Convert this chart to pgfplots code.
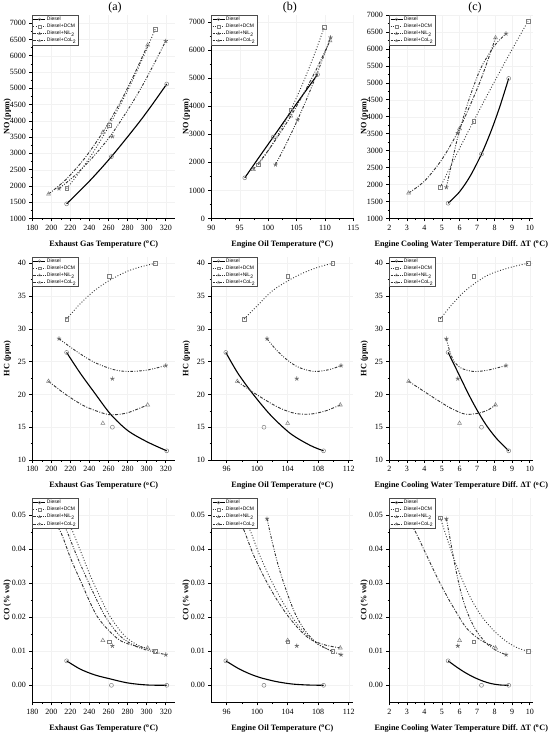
\documentclass[border=0pt]{standalone}
\usepackage{fontspec}
\setmainfont{Liberation Serif}
\setsansfont{Liberation Sans}
\usepackage{pgfplots}
\pgfplotsset{compat=1.18}
\usetikzlibrary{plotmarks}

\pgfplotsset{
  base/.style={
    scale only axis,
    axis x line*=bottom, axis y line*=left,
    axis line style={black, line width=0.7pt},
    tick align=outside, minor tick num=1,
    major tick length=3pt, minor tick length=1.7pt,
    every tick/.style={black, line width=0.6pt},
    tick label style={font=\fontsize{8}{9}\selectfont},
    /pgf/number format/assume math mode=true,
    /pgf/number format/1000 sep={},
    every axis x label/.style={at={(axis description cs:0.5,0)}, anchor=center, yshift=-26pt, font=\bfseries\fontsize{8.2}{10}\selectfont},
    every axis y label/.style={at={([xshift=-25pt]axis description cs:0,0.5)}, anchor=center, rotate=90, font=\bfseries\fontsize{8.2}{10}\selectfont},
    grid=major, major grid style={black!5, line width=0.3pt},
    legend cell align=left,
    legend style={at={(0,1)}, anchor=north west, draw=black!70, line width=0.3pt, fill=white,
      font=\sffamily\fontsize{5}{5.5}\selectfont, inner sep=0.6pt, nodes={inner sep=1pt}},
    legend image code/.code={\draw[mark repeat=2,mark phase=2,##1] plot coordinates {(0pt,0pt)(6pt,0pt)(12pt,0pt)};},
  },
  coaxis/.style={ymin=-0.005, ymax=0.055, ytick={0,0.01,0.02,0.03,0.04,0.05}, scaled y ticks=false,
    yticklabel style={/pgf/number format/fixed, /pgf/number format/fixed zerofill, /pgf/number format/precision=2}},
  ttl/.style={title={#1}, title style={anchor=center, yshift=1pt, font=\fontsize{12}{14}\selectfont}},
  lD/.style={black, line width=0.9pt, solid, mark=o, mark size=1.4pt, mark options={solid, draw=black!50, line width=0.4pt, fill=white}},
  lM/.style={black!80, line width=0.8pt, dash pattern=on 0.8pt off 1.6pt, mark=square, mark size=1.3pt, mark options={solid, draw=black!50, line width=0.4pt, fill=white}},
  lN/.style={black!80, line width=0.8pt, dash pattern=on 2.5pt off 1.2pt on 0.8pt off 1.2pt, mark=triangle, mark size=1.5pt, mark options={solid, draw=black!50, line width=0.4pt, fill=white}},
  lC/.style={black!80, line width=0.8pt, dash pattern=on 2.2pt off 1.2pt on 0.8pt off 1.2pt on 0.8pt off 1.2pt, mark=star, mark size=1.5pt, mark options={solid, draw=black!55, line width=0.5pt, fill=white}},
  cD/.style={black, line width=1.1pt, solid, smooth, no markers},
  cM/.style={black!80, line width=0.9pt, dash pattern=on 0.9pt off 1.9pt, smooth, no markers},
  cN/.style={black!80, line width=0.9pt, dash pattern=on 3pt off 1.5pt on 0.9pt off 1.5pt, smooth, no markers},
  cC/.style={black!80, line width=0.9pt, dash pattern=on 2.6pt off 1.5pt on 0.9pt off 1.5pt on 0.9pt off 1.5pt, smooth, no markers},
  mD/.style={only marks, mark=o, mark size=2pt, mark options={solid, draw=black!50, line width=0.5pt}},
  mM/.style={only marks, mark=square, mark size=1.8pt, mark options={solid, draw=black!50, line width=0.5pt}},
  mN/.style={only marks, mark=triangle, mark size=2.3pt, mark options={solid, draw=black!50, line width=0.5pt}},
  mC/.style={only marks, mark=star, mark size=2.2pt, mark options={solid, draw=black!60, line width=0.7pt}},
}

\newcommand{\legimgs}{%
  \addlegendimage{lD}\addlegendentry{Diesel}
  \addlegendimage{lM}\addlegendentry{Diesel+DCM}
  \addlegendimage{lN}\addlegendentry{Diesel+NiL\textsubscript{2}}
  \addlegendimage{lC}\addlegendentry{Diesel+CoL\textsubscript{2}}}

\begin{document}
\begin{tikzpicture}[x=1pt,y=1pt]
\useasboundingbox (0,0) rectangle (550,737);

% ================= Row 1: NO =================
\begin{axis}[base, at={(32.3pt,518.5pt)}, anchor=south west, width=143pt, height=203.5pt,
  xmin=180, xmax=330, ymin=1000, ymax=7250,
  xtick={180,200,...,320}, ytick={1000,1500,...,7000},
  xlabel={Exhaust Gas Temperature (\textsuperscript{o}C)}, ylabel={NO (ppm)},
  ttl={(a)}, title style={at={(axis description cs:0.578,1)}}]
\legimgs
\addplot[cD, forget plot] coordinates {(216,1450)(240,2150)(263,2900)(290,3878)(305,4466)(321,5130)};
\addplot[cM, forget plot] coordinates {(216,1920)(230,2442)(245,3086)(261,3870)(280,4930)(295,5866)(309,6820)};
\addplot[cN, forget plot] coordinates {(197,1750)(215,2190)(235,2852)(254,3650)(270,4449)(285,5305)(301,6330)};
\addplot[cC, forget plot] coordinates {(208,1920)(225,2330)(245,2930)(264,3620)(285,4560)(300,5320)(320,6450)};
\addplot[mD, forget plot] coordinates {(216,1450)(263,2900)(321,5130)};
\addplot[mM, forget plot] coordinates {(216,1920)(261,3870)(309,6820)};
\addplot[mN, forget plot] coordinates {(197,1750)(254,3650)(301,6330)};
\addplot[mC, forget plot] coordinates {(208,1920)(264,3520)(320,6450)};
\end{axis}

\begin{axis}[base, at={(211.3pt,518.5pt)}, anchor=south west, width=142pt, height=203.5pt,
  xmin=90, xmax=115, ymin=0, ymax=7250,
  xtick={90,95,...,115}, ytick={0,1000,...,7000},
  xlabel={Engine Oil Temperature (\textsuperscript{o}C)}, ylabel={NO (ppm)},
  ttl={(b)}, title style={at={(axis description cs:0.554,1)}}]
\legimgs
\addplot[cD, forget plot] coordinates {(95.9,1450)(98.5,2210)(100.9,2900)(104.8,4030)(108.7,5130)};
\addplot[cM, forget plot] coordinates {(98.3,1920)(100,2409)(102,3085)(104,3870)(106,4763)(108,5767)(109.9,6820)};
\addplot[cN, forget plot] coordinates {(97.4,1750)(99.5,2284)(101.5,2854)(104,3650)(106.5,4539)(108.7,5398)(110.9,6330)};
\addplot[cC, forget plot] coordinates {(101.3,1920)(103,2581)(105.2,3520)(107,4359)(109,5365)(111,6450)};
\addplot[mD, forget plot] coordinates {(95.9,1450)(100.9,2900)(108.7,5130)};
\addplot[mM, forget plot] coordinates {(98.3,1920)(104.0,3870)(109.9,6820)};
\addplot[mN, forget plot] coordinates {(97.4,1750)(104.0,3650)(110.9,6330)};
\addplot[mC, forget plot] coordinates {(101.3,1920)(105.2,3520)(111.0,6450)};
\end{axis}

\begin{axis}[base, at={(389.3pt,518.5pt)}, anchor=south west, width=144pt, height=203.5pt,
  xmin=2, xmax=10.2, ymin=1000, ymax=7000,
  xtick={2,3,...,10}, ytick={1000,1500,...,7000},
  xlabel={Engine Cooling Water Temperature Diff. ΔT (\textsuperscript{o}C)}, ylabel={NO (ppm)},
  ttl={(c)}, title style={at={(axis description cs:0.595,1)}}]
\legimgs
\addplot[cD, forget plot] coordinates {(5.35,1450)(6.0,1787)(6.6,2245)(7.25,2900)(7.8,3584)(8.3,4308)(8.8,5130)};
\addplot[cM, forget plot] coordinates {(4.9,1920)(5.5,2548)(6.2,3266)(6.8,3870)(7.6,4659)(8.7,5712)(9.9,6820)};
\addplot[cN, forget plot] coordinates {(3.1,1750)(4.0,2103)(5.0,2745)(6.0,3650)(7.0,4819)(7.5,5502)(8.05,6330)};
\addplot[cC, forget plot] coordinates {(5.25,1920)(5.5,2500)(5.9,3400)(6.5,4450)(7.2,5420)(8.0,6100)(8.65,6450)};
\addplot[mD, forget plot] coordinates {(5.35,1450)(7.25,2900)(8.8,5130)};
\addplot[mM, forget plot] coordinates {(4.9,1920)(6.8,3870)(9.9,6820)};
\addplot[mN, forget plot] coordinates {(3.1,1750)(6.0,3650)(8.05,6330)};
\addplot[mC, forget plot] coordinates {(5.25,1920)(5.9,3520)(8.65,6450)};
\end{axis}

% ================= Row 2: HC =================
\begin{axis}[base, at={(32.3pt,277pt)}, anchor=south west, width=143pt, height=203.3pt,
  xmin=180, xmax=330, ymin=10, ymax=41,
  xtick={180,200,...,320}, ytick={10,15,...,40},
  xlabel={Exhaust Gas Temperature (\textsuperscript{o}C)}, ylabel={HC (ppm)}]
\legimgs
\addplot[cD, forget plot] coordinates {(216,26.4)(230,23.3)(245,20.3)(262,17.0)(280,14.5)(300,12.8)(321,11.4)};
\addplot[cM, forget plot] coordinates {(216,31.5)(230,33.8)(245,35.8)(261,37.4)(280,38.8)(295,39.5)(309,40.0)};
\addplot[cN, forget plot] coordinates {(197,22.0)(215,20.0)(235,18.2)(255,17.1)(265,16.9)(280,17.2)(301,18.4)};
\addplot[cC, forget plot] coordinates {(208,28.5)(225,26.7)(245,24.9)(265,23.8)(280,23.5)(300,23.7)(320,24.4)};
\addplot[mD, forget plot] coordinates {(216,26.4)(264,15.0)(321,11.4)};
\addplot[mM, forget plot] coordinates {(216,31.5)(261,38.0)(309,40.0)};
\addplot[mN, forget plot] coordinates {(197,22.0)(254,15.6)(301,18.4)};
\addplot[mC, forget plot] coordinates {(208,28.5)(264,22.4)(320,24.4)};
\end{axis}

\begin{axis}[base, at={(211.3pt,277pt)}, anchor=south west, width=142pt, height=203.3pt,
  xmin=94, xmax=112.6, ymin=10, ymax=41,
  xtick={96,100,...,112}, ytick={10,15,...,40},
  xlabel={Engine Oil Temperature (\textsuperscript{o}C)}, ylabel={HC (ppm)}]
\legimgs
\addplot[cD, forget plot] coordinates {(95.9,26.4)(97.5,23.2)(99.5,20.0)(101.8,16.8)(104.4,14.0)(107,12.2)(108.7,11.4)};
\addplot[cM, forget plot] coordinates {(98.3,31.5)(100,33.5)(102,35.8)(104,37.3)(106,38.5)(108,39.4)(109.9,40.0)};
\addplot[cN, forget plot] coordinates {(97.4,22.0)(99,20.7)(101,19.2)(103,17.9)(105,17.1)(107,17.0)(109,17.5)(110.9,18.4)};
\addplot[cC, forget plot] coordinates {(101.3,28.5)(102.5,26.8)(104,25.2)(105.5,24.1)(107.5,23.5)(109.5,23.8)(111,24.4)};
\addplot[mD, forget plot] coordinates {(95.9,26.4)(100.9,15.0)(108.7,11.4)};
\addplot[mM, forget plot] coordinates {(98.3,31.5)(104.0,38.0)(109.9,40.0)};
\addplot[mN, forget plot] coordinates {(97.4,22.0)(104.0,15.6)(110.9,18.4)};
\addplot[mC, forget plot] coordinates {(101.3,28.5)(105.2,22.4)(111.0,24.4)};
\end{axis}

\begin{axis}[base, at={(389.3pt,277pt)}, anchor=south west, width=144pt, height=203.3pt,
  xmin=2, xmax=10.2, ymin=10, ymax=41,
  xtick={2,3,...,10}, ytick={10,15,...,40},
  xlabel={Engine Cooling Water Temperature Diff. ΔT (\textsuperscript{o}C)}, ylabel={HC (ppm)}]
\legimgs
\addplot[cD, forget plot] coordinates {(5.35,26.4)(5.9,23.4)(6.5,20.1)(7.0,17.6)(7.5,15.4)(8.1,13.3)(8.8,11.4)};
\addplot[cM, forget plot] coordinates {(4.9,31.5)(5.5,33.5)(6.2,35.5)(6.9,37.0)(7.7,38.3)(8.8,39.3)(9.9,40.0)};
\addplot[cN, forget plot] coordinates {(3.1,22.0)(3.9,20.6)(4.7,19.2)(5.5,17.9)(6.3,17.0)(7.0,17.1)(7.6,17.6)(8.05,18.4)};
\addplot[cC, forget plot] coordinates {(5.25,28.5)(5.45,26.5)(5.7,25.0)(6.1,24.0)(6.8,23.5)(7.6,23.7)(8.65,24.4)};
\addplot[mD, forget plot] coordinates {(5.35,26.4)(7.25,15.0)(8.8,11.4)};
\addplot[mM, forget plot] coordinates {(4.9,31.5)(6.8,38.0)(9.9,40.0)};
\addplot[mN, forget plot] coordinates {(3.1,22.0)(6.0,15.6)(8.05,18.4)};
\addplot[mC, forget plot] coordinates {(5.25,28.5)(5.9,22.4)(8.65,24.4)};
\end{axis}

% ================= Row 3: CO =================
\begin{axis}[base, coaxis, at={(32.3pt,34.7pt)}, anchor=south west, width=143pt, height=204pt,
  xmin=180, xmax=330, xtick={180,200,...,320},
  xlabel={Exhaust Gas Temperature (\textsuperscript{o}C)}, ylabel={CO (\% vol)}]
\legimgs
\addplot[cD, forget plot] coordinates {(216,0.0072)(230,0.0048)(245,0.0031)(260,0.0020)(280,0.0007)(300,0.0001)(321,0.0)};
\addplot[cM, forget plot] coordinates {(216,0.049)(222,0.0455)(232,0.0385)(242,0.0315)(260,0.0210)(277,0.0145)(293,0.0115)(309,0.0102)};
\addplot[cN, forget plot] coordinates {(197,0.0495)(209,0.0455)(220,0.0375)(230,0.0311)(248,0.0203)(268.6,0.0139)(282.5,0.0120)(301,0.0109)};
\addplot[cC, forget plot] coordinates {(208,0.049)(216,0.0455)(226,0.0385)(237,0.0315)(255,0.0210)(272,0.0145)(290,0.0113)(305,0.0100)(320,0.0090)};
\addplot[mD, forget plot] coordinates {(216,0.0072)(263,0.0)(321,0.0)};
\addplot[mM, forget plot] coordinates {(216,0.049)(261,0.0128)(309,0.0100)};
\addplot[mN, forget plot] coordinates {(197,0.0495)(254,0.0132)(301,0.0110)};
\addplot[mC, forget plot] coordinates {(208,0.049)(264,0.0116)(320,0.0090)};
\end{axis}

\begin{axis}[base, coaxis, at={(211.3pt,34.7pt)}, anchor=south west, width=142pt, height=204pt,
  xmin=94, xmax=112.6, xtick={96,100,...,112},
  xlabel={Engine Oil Temperature (\textsuperscript{o}C)}, ylabel={CO (\% vol)}]
\legimgs
\addplot[cD, forget plot] coordinates {(95.9,0.0072)(97.5,0.0050)(99,0.0034)(100.5,0.0022)(102.5,0.0011)(104.5,0.0004)(106.5,0.0001)(108.7,0.0)};
\addplot[cM, forget plot] coordinates {(98.3,0.0495)(99.1,0.0455)(100.2,0.0390)(101.6,0.0320)(103.1,0.0255)(104.6,0.0200)(106.2,0.0155)(108,0.0120)(109.9,0.0100)};
\addplot[cN, forget plot] coordinates {(97.4,0.0495)(98.3,0.0455)(99.5,0.0385)(101,0.0315)(102.5,0.0255)(104,0.0205)(105.5,0.0165)(107,0.0135)(109,0.0118)(110.9,0.0110)};
\addplot[cC, forget plot] coordinates {(101.3,0.0490)(102,0.0420)(102.8,0.0350)(103.8,0.0280)(105,0.0210)(106.3,0.0160)(107.8,0.0125)(109.5,0.0103)(111,0.0090)};
\addplot[mD, forget plot] coordinates {(95.9,0.0072)(100.9,0.0)(108.7,0.0)};
\addplot[mM, forget plot] coordinates {(98.3,0.049)(104.0,0.0128)(109.9,0.0100)};
\addplot[mN, forget plot] coordinates {(97.4,0.0495)(104.0,0.0132)(110.9,0.0110)};
\addplot[mC, forget plot] coordinates {(101.3,0.049)(105.2,0.0116)(111.0,0.0090)};
\end{axis}

\begin{axis}[base, coaxis, at={(389.3pt,34.7pt)}, anchor=south west, width=144pt, height=204pt,
  xmin=2, xmax=10.2, xtick={2,3,...,10},
  xlabel={Engine Cooling Water Temperature Diff. ΔT (\textsuperscript{o}C)}, ylabel={CO (\% vol)}]
\legimgs
\addplot[cD, forget plot] coordinates {(5.35,0.0072)(5.8,0.0055)(6.3,0.0038)(6.8,0.0024)(7.3,0.0013)(7.8,0.0005)(8.3,0.0001)(8.8,0.0)};
\addplot[cM, forget plot] coordinates {(4.9,0.0493)(5.3,0.0430)(5.7,0.0370)(6.2,0.0305)(6.7,0.0250)(7.3,0.0200)(8.0,0.0158)(8.7,0.0128)(9.3,0.0110)(9.9,0.0100)};
\addplot[cN, forget plot] coordinates {(3.1,0.0490)(3.55,0.0445)(4.1,0.0385)(4.7,0.0320)(5.2,0.0270)(5.7,0.0225)(6.4,0.0168)(7.2,0.0133)(8.05,0.0112)};
\addplot[cC, forget plot] coordinates {(5.25,0.0490)(5.5,0.0420)(5.75,0.0350)(6.05,0.0280)(6.4,0.0220)(6.9,0.0165)(7.5,0.0125)(8.1,0.0102)(8.65,0.0090)};
\addplot[mD, forget plot] coordinates {(5.35,0.0072)(7.25,0.0)(8.8,0.0)};
\addplot[mM, forget plot] coordinates {(4.9,0.0493)(6.8,0.0128)(9.9,0.0100)};
\addplot[mN, forget plot] coordinates {(3.1,0.049)(6.0,0.0132)(8.05,0.0110)};
\addplot[mC, forget plot] coordinates {(5.25,0.049)(5.9,0.0116)(8.65,0.0090)};
\end{axis}
\end{tikzpicture}
\end{document}
